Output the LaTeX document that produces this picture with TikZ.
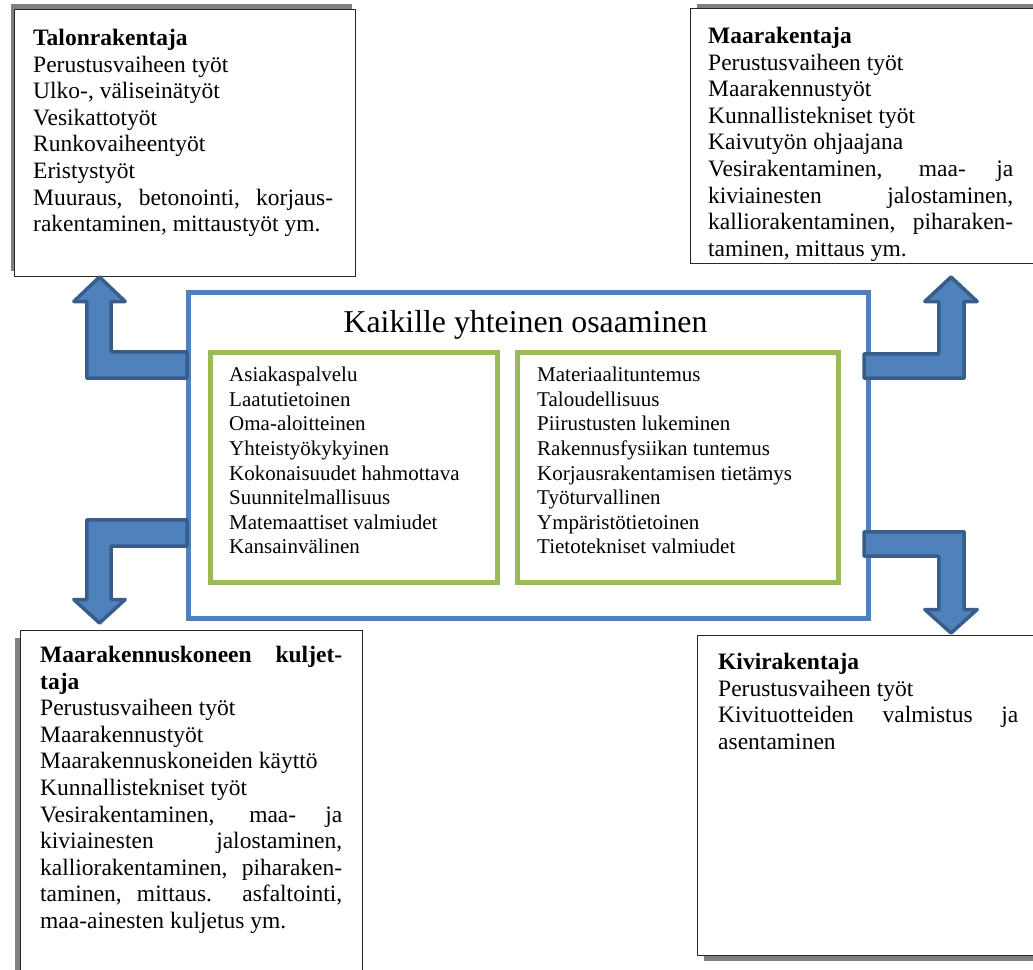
\documentclass[tikz,border=0pt]{standalone}
\usepackage{fontspec}
\setmainfont{Liberation Serif}
\usetikzlibrary{shadows}

\definecolor{frameblue}{HTML}{4F81BD}
\definecolor{framegreen}{HTML}{9BBB59}
\definecolor{arrowedge}{HTML}{385D8A}

% a line stretched to the full column width (justified line)
\newcommand\jline[2]{\makebox[#1][s]{#2}}

\tikzset{
  rolebox/.style={draw=black!85, line width=1.3pt, fill=white, inner sep=0pt, anchor=north west},
  roletext/.style={anchor=north west, inner sep=0pt, align=left, font=\fontsize{23.5}{26.6}\selectfont},
  listtext/.style={anchor=north west, inner sep=0pt, align=left, font=\fontsize{21}{24.6}\selectfont},
  commonframe/.style={draw=frameblue, line width=5pt},
  groupframe/.style={draw=framegreen, line width=5pt},
  blockarrow/.style={fill=frameblue, draw=arrowedge, line width=3.5pt, line join=round},
  boxshadow/.style={fill=black!50, opacity=1}
}

\begin{document}
\begin{tikzpicture}[x=1pt, y=-1pt]
\useasboundingbox (0,0) rectangle (1033,969);

% ---- role boxes with their offset shadows ----
\node[rolebox, minimum width=341pt, minimum height=267pt,
      drop shadow={shadow xshift=-4pt, shadow yshift=6pt, boxshadow}] (talo) at (14,9) {};
\node[rolebox, minimum width=350pt, minimum height=255pt,
      drop shadow={shadow xshift=6pt, shadow yshift=5pt, boxshadow}] (maa) at (690,8) {};
\node[rolebox, minimum width=342pt, minimum height=350pt,
      drop shadow={shadow xshift=-6pt, shadow yshift=-7pt, boxshadow}] (kone) at (20,630) {};
\node[rolebox, minimum width=345pt, minimum height=320pt,
      drop shadow={shadow xshift=6pt, shadow yshift=-5pt, boxshadow}] (kivi) at (697,635) {};

\node[roletext] (talotext) at (33,29) {%
  \textbf{Talonrakentaja}\\
  Perustusvaiheen työt\\
  Ulko-, väliseinätyöt\\
  Vesikattotyöt\\
  Runkovaiheentyöt\\
  Eristystyöt\\
  \jline{300pt}{Muuraus, betonointi, korjaus-}\\
  rakentaminen, mittaustyöt ym.};

\node[roletext] (maatext) at (708,27) {%
  \textbf{Maarakentaja}\\
  Perustusvaiheen työt\\
  Maarakennustyöt\\
  Kunnallistekniset työt\\
  Kaivutyön ohjaajana\\
  \jline{305pt}{Vesirakentaminen, maa- ja}\\
  \jline{305pt}{kiviainesten jalostaminen,}\\
  \jline{305pt}{kalliorakentaminen, piharaken-}\\
  taminen, mittaus ym.};

\node[roletext] (konetext) at (40,646) {%
  \jline{302pt}{\bfseries Maarakennuskoneen kuljet-}\\
  \textbf{taja}\\
  Perustusvaiheen työt\\
  Maarakennustyöt\\
  Maarakennuskoneiden käyttö\\
  Kunnallistekniset työt\\
  \jline{302pt}{Vesirakentaminen, maa- ja}\\
  \jline{302pt}{kiviainesten jalostaminen,}\\
  \jline{302pt}{kalliorakentaminen, piharaken-}\\
  \jline{302pt}{taminen, mittaus. asfaltointi,}\\
  maa-ainesten kuljetus ym.};

\node[roletext] (kivitext) at (718,653) {%
  \textbf{Kivirakentaja}\\
  Perustusvaiheen työt\\
  \jline{300pt}{Kivituotteiden valmistus ja}\\
  asentaminen};

% ---- common competences ----
\node[commonframe, inner sep=0pt, minimum width=679.5pt, minimum height=326pt, anchor=north west]
  (common) at (186,289.5) {};
\node[anchor=base, inner sep=0pt, font=\fontsize{31.8}{36}\selectfont] (title) at (525.5,332)
  {Kaikille yhteinen osaaminen};

\node[groupframe, inner sep=0pt, minimum width=287pt, minimum height=230pt, anchor=north west]
  (groupA) at (207.5,349.5) {};
\node[groupframe, inner sep=0pt, minimum width=321.5pt, minimum height=230pt, anchor=north west]
  (groupB) at (514.5,349.5) {};

\node[listtext] (listA) at (229,367) {%
  Asiakaspalvelu\\
  Laatutietoinen\\
  Oma-aloitteinen\\
  Yhteistyökykyinen\\
  Kokonaisuudet hahmottava\\
  Suunnitelmallisuus\\
  Matemaattiset valmiudet\\
  Kansainvälinen};

\node[listtext] (listB) at (537,367) {%
  Materiaalituntemus\\
  Taloudellisuus\\
  Piirustusten lukeminen\\
  Rakennusfysiikan tuntemus\\
  Korjausrakentamisen tietämys\\
  Työturvallinen\\
  Ympäristötietoinen\\
  Tietotekniset valmiudet};

% ---- bent block arrows from the common frame to the role boxes ----
% up-left, towards Talonrakentaja
\draw[blockarrow] (99.5,277) -- (125.2,301.5) -- (111.2,301.5) -- (111.2,351.8)
  -- (187,351.8) -- (187,378.2) -- (86.8,378.2) -- (86.8,301.5) -- (73.8,301.5) -- cycle;
% down-left, towards the machine operator
\draw[blockarrow] (187,519.8) -- (187,546.2) -- (111.2,546.2) -- (111.2,599.5)
  -- (125.2,599.5) -- (99.5,623) -- (73.8,599.5) -- (86.8,599.5) -- (86.8,519.8) -- cycle;
% up-right, towards Maarakentaja
\draw[blockarrow] (951,277) -- (977.2,301.5) -- (964.2,301.5) -- (964.2,378.2)
  -- (864,378.2) -- (864,353.8) -- (938.8,353.8) -- (938.8,301.5) -- (924.8,301.5) -- cycle;
% down-right, towards Kivirakentaja
\draw[blockarrow] (864,531.8) -- (964.2,531.8) -- (964.2,609.5) -- (977.2,609.5)
  -- (951,633) -- (924.8,609.5) -- (938.8,609.5) -- (938.8,556.2) -- (864,556.2) -- cycle;

\end{tikzpicture}
\end{document}
